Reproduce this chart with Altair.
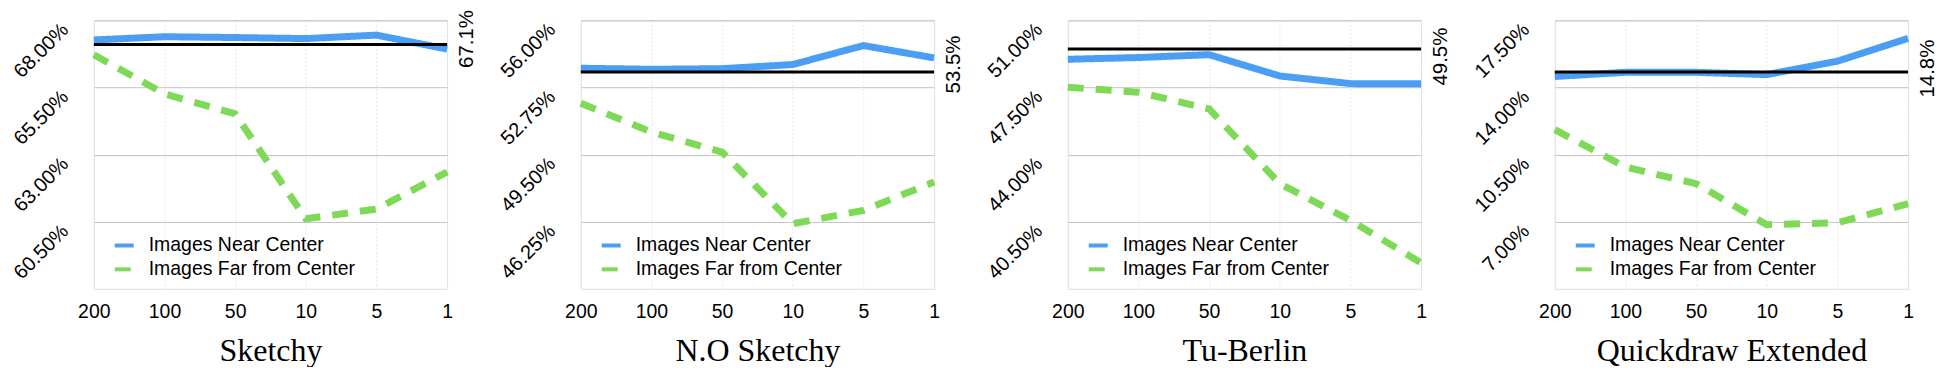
import altair as alt
import pandas as pd

categories = ["200", "100", "50", "10", "5", "1"]
NEAR = "Images Near Center"
FAR = "Images Far from Center"

titles = ["Sketchy", "N.O Sketchy", "Tu-Berlin", "Quickdraw Extended"]

near_sketchy = [67.27, 67.39, 67.36, 67.32, 67.45, 66.93]
far_sketchy = [66.72, 65.26, 64.52, 60.61, 60.97, 62.35]
base_sketchy = 67.1

near_nosketchy = [53.68, 53.63, 53.66, 53.86, 54.78, 54.18]
far_nosketchy = [51.99, 50.59, 49.62, 46.15, 46.80, 48.17]
base_nosketchy = 53.5

near_tuberlin = [48.97, 49.06, 49.21, 48.10, 47.70, 47.69]
far_tuberlin = [47.51, 47.25, 46.38, 42.48, 40.57, 38.35]
base_tuberlin = 49.5

near_quickdraw = [14.57, 14.79, 14.79, 14.67, 15.37, 16.56]
far_quickdraw = [11.80, 9.85, 8.98, 6.84, 6.95, 7.94]
base_quickdraw = 14.8

domains = [[58.0, 68.0], [43.0, 56.0], [37.0, 51.0], [3.5, 17.5]]
tick_values = [
    [60.5, 63.0, 65.5, 68.0],
    [46.25, 49.5, 52.75, 56.0],
    [40.5, 44.0, 47.5, 51.0],
    [7.0, 10.5, 14.0, 17.5],
]

BLUE = "#4a9ff5"
GREEN = "#7ed957"
SANS = "Liberation Sans"
SERIF = "Liberation Serif"


def panel(title, near, far, base, domain, ticks, right_shift):
    df = pd.DataFrame({
        "k": categories * 2,
        "acc": near + far,
        "series": [NEAR] * len(near) + [FAR] * len(far),
    })
    yscale = alt.Scale(domain=domain, nice=False, zero=False)
    legend = alt.Legend(
        title=None, orient="none", legendX=19, legendY=214,
        symbolType="stroke", symbolSize=361, symbolStrokeWidth=4,
        labelFont=SANS, labelFontSize=19.5, labelColor="black", labelLimit=0,
        labelOffset=13, rowPadding=3, padding=0,
    )
    lines = alt.Chart(df).mark_line(strokeWidth=7, strokeCap="butt").encode(
        x=alt.X("k:N", sort=categories,
                scale=alt.Scale(type="point", padding=0),
                axis=alt.Axis(title=title, titleFont=SERIF, titleFontSize=32,
                              titleFontWeight="normal", titleColor="black",
                              titlePadding=14,
                              labelFont=SANS, labelFontSize=19.5, labelColor="black",
                              labelAngle=0, labelPadding=14,
                              domain=False, ticks=False,
                              grid=True, gridColor="#e6e6e6", gridDash=[2, 2])),
        y=alt.Y("acc:Q", scale=yscale,
                axis=alt.Axis(values=ticks, title=None,
                              labelExpr="format(datum.value, '.2f') + '%'",
                              labelFont=SANS, labelFontSize=20, labelColor="black",
                              labelAngle=315, labelAlign="right", labelBaseline="middle",
                              labelPadding=29, labelOffset=6,
                              domain=False, ticks=False,
                              grid=True, gridColor="#c4c4c4", gridWidth=1)),
        color=alt.Color("series:N", scale=alt.Scale(domain=[NEAR, FAR], range=[BLUE, GREEN]),
                        legend=legend),
        strokeDash=alt.StrokeDash("series:N",
                                  scale=alt.Scale(domain=[NEAR, FAR], range=[[1, 0], [16, 12]]),
                                  legend=legend),
    )
    rule = alt.Chart(pd.DataFrame({"b": [base]})).mark_rule(color="black", strokeWidth=3).encode(
        y=alt.Y("b:Q", scale=yscale,
                axis=alt.Axis(orient="right", values=[base], title=None,
                              labelExpr="format(datum.value, '.1f') + '%'",
                              labelFont=SANS, labelFontSize=20.5, labelColor="black",
                              labelAngle=270, labelAlign="center", labelBaseline="top",
                              labelPadding=9, labelOffset=right_shift,
                              domain=False, ticks=False, grid=False))
    )
    return alt.layer(lines, rule).resolve_axis(y="independent").properties(width=354, height=269)


panels = [
    panel(titles[0], near_sketchy, far_sketchy, base_sketchy, domains[0], tick_values[0], -6),
    panel(titles[1], near_nosketchy, far_nosketchy, base_nosketchy, domains[1], tick_values[1], -8),
    panel(titles[2], near_tuberlin, far_tuberlin, base_tuberlin, domains[2], tick_values[2], 7),
    panel(titles[3], near_quickdraw, far_quickdraw, base_quickdraw, domains[3], tick_values[3], -4),
]

chart = alt.hconcat(*panels, spacing=134, bounds="flush").resolve_scale(
    x="independent", y="independent", color="independent", strokeDash="independent"
).resolve_legend(color="independent", strokeDash="independent").properties(
    padding={"left": 1, "top": 0, "right": 0, "bottom": 0}
).configure_view(stroke="#d4d4d4", strokeWidth=1.5).configure(background="white")

chart.save("out.html", embed_options={"renderer": "svg", "actions": False})
